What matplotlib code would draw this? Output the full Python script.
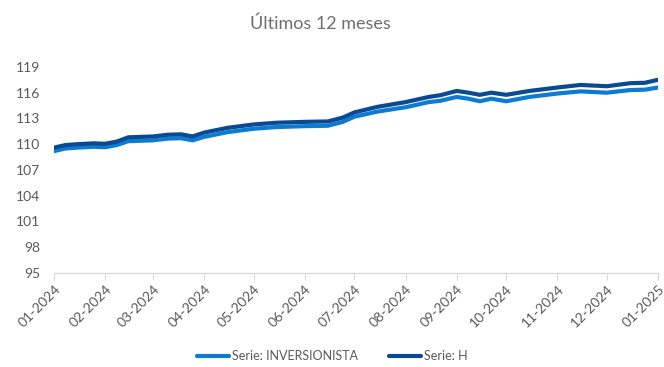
import matplotlib
matplotlib.use('Agg')
import matplotlib.pyplot as plt
import matplotlib.dates as mdates
import pandas as pd

# fechas de observacion (aprox. quincenal)
fechas = ['2024-01-01', '2024-01-08', '2024-01-15', '2024-01-25', '2024-02-01', '2024-02-08',
          '2024-02-15', '2024-03-01', '2024-03-10', '2024-03-18', '2024-03-25', '2024-04-01',
          '2024-04-15', '2024-05-01', '2024-05-15', '2024-06-01', '2024-06-15', '2024-06-24',
          '2024-07-01', '2024-07-15', '2024-08-01', '2024-08-15', '2024-08-22', '2024-09-01',
          '2024-09-08', '2024-09-15', '2024-09-22', '2024-10-01', '2024-10-15', '2024-11-01',
          '2024-11-15', '2024-12-01', '2024-12-15', '2024-12-24', '2025-01-01']

serie_h = [109.6, 109.9, 110.0, 110.1, 110.05, 110.3,
           110.8, 110.9, 111.1, 111.15, 110.9, 111.35,
           111.9, 112.3, 112.5, 112.6, 112.65, 113.1,
           113.7, 114.35, 114.9, 115.5, 115.7, 116.2,
           116.0, 115.75, 116.0, 115.75, 116.2, 116.6,
           116.9, 116.75, 117.1, 117.15, 117.5]

serie_inv = [109.2, 109.5, 109.6, 109.7, 109.65, 109.9,
             110.35, 110.45, 110.65, 110.7, 110.45, 110.85,
             111.4, 111.8, 112.0, 112.1, 112.15, 112.6,
             113.2, 113.8, 114.3, 114.9, 115.05, 115.5,
             115.3, 115.0, 115.3, 115.0, 115.5, 115.9,
             116.15, 116.0, 116.3, 116.35, 116.6]

y_ticks = [95, 98, 101, 104, 107, 110, 113, 116, 119]

COLOR_INV = '#0C7BD3'
COLOR_H = '#0B4A93'
GRIS = '#595959'

fechas = pd.to_datetime(fechas)

plt.rcParams['font.family'] = ['Lato', 'DejaVu Sans']

fig = plt.figure(figsize=(6.64, 3.67), dpi=100)
ax = fig.add_axes([0.0813, 0.2561, 0.9097, 0.585])

ax.plot(fechas, serie_inv, color=COLOR_INV, lw=3, label='Serie: INVERSIONISTA',
        solid_capstyle='round')
ax.plot(fechas, serie_h, color=COLOR_H, lw=3, label='Serie: H',
        solid_capstyle='round')

ax.set_ylim(95, 120)
ax.set_yticks(y_ticks)
ax.set_xlim(pd.Timestamp('2024-01-01'), pd.Timestamp('2025-01-01'))
ax.xaxis.set_major_locator(mdates.MonthLocator())
ax.xaxis.set_major_formatter(mdates.DateFormatter('%m-%Y'))

for lado in ['top', 'right', 'left']:
    ax.spines[lado].set_visible(False)
ax.spines['bottom'].set_color('#D9D9D9')
ax.spines['bottom'].set_linewidth(1)

ax.tick_params(axis='y', length=0, labelsize=10, labelcolor=GRIS, pad=10)
ax.tick_params(axis='x', length=5, color='#D9D9D9', labelsize=10, labelcolor=GRIS, pad=2)
plt.setp(ax.get_xticklabels(), rotation=45, ha='right', rotation_mode='anchor')

fig.text(0.482, 0.935, 'Últimos 12 meses', ha='center', va='center', fontsize=13,
         color='#6E6E6E')

ax.legend(loc='center', bbox_to_anchor=(0.5, 0.03), bbox_transform=fig.transFigure,
          ncol=2, frameon=False, fontsize=9, labelcolor=GRIS, handlelength=2.6,
          handletextpad=0.2, columnspacing=2.5)

fig.savefig('out.png', dpi=100, facecolor='white')
